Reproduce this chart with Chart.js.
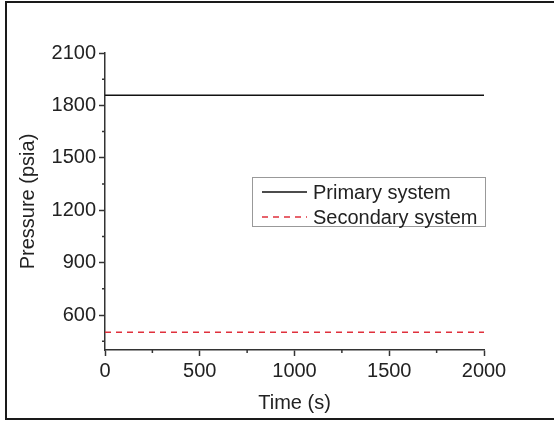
<!DOCTYPE html>
<html>
<head>
<meta charset="utf-8">
<script src="https://cdn.jsdelivr.net/npm/chart.js@4"></script>
<style>
  html, body { margin: 0; padding: 0; background: #fff; }
  #wrap { width: 554px; height: 421px; position: relative; }
</style>
</head>
<body>
<div id="wrap"><canvas id="myChart" width="554" height="421"></canvas></div>
<script>
var timeS = [0, 500, 1000, 1500, 2000];
var primaryPsia = [1858, 1858, 1858, 1858, 1858];
var secondaryPsia = [501, 501, 501, 501, 501];
var seriesNames = ['Primary system', 'Secondary system'];
var yTickValues = [600, 900, 1200, 1500, 1800, 2100];
var yMinorValues = [450, 750, 1050, 1350, 1650, 1950];
var xMinorValues = [250, 750, 1250, 1750];

var FONT = "'Liberation Sans', Arial, sans-serif";
var INK = '#222';
var AXIS = '#333';

function pts(vals) {
  return timeS.map(function (t, i) { return { x: t, y: vals[i] }; });
}

// white background + outer frame
var framePlugin = {
  id: 'frame',
  beforeDraw: function (chart) {
    var c = chart.ctx;
    c.save();
    c.fillStyle = '#fff';
    c.fillRect(0, 0, chart.width, chart.height);
    c.strokeStyle = '#1a1a1a';
    c.lineWidth = 2;
    c.strokeRect(6, 2, 600, 417);
    c.restore();
  }
};

// small minor ticks pointing outwards
var minorTicks = {
  id: 'minorTicks',
  afterDraw: function (chart) {
    var c = chart.ctx, x = chart.scales.x, y = chart.scales.y;
    c.save();
    c.strokeStyle = AXIS;
    c.lineWidth = 1.5;
    c.beginPath();
    yMinorValues.forEach(function (v) {
      var py = y.getPixelForValue(v);
      c.moveTo(x.left, py); c.lineTo(x.left - 3, py);
    });
    xMinorValues.forEach(function (v) {
      var px = x.getPixelForValue(v);
      c.moveTo(px, y.bottom); c.lineTo(px, y.bottom + 3);
    });
    c.stroke();
    c.restore();
  }
};

// boxed legend inside the plot
var boxLegend = {
  id: 'boxLegend',
  afterDraw: function (chart) {
    var c = chart.ctx;
    var bx = 252, by = 177, bw = 233, bh = 49;
    c.save();
    c.fillStyle = '#fff';
    c.fillRect(bx, by, bw, bh);
    c.strokeStyle = '#999';
    c.lineWidth = 1;
    c.strokeRect(bx + 0.5, by + 0.5, bw, bh);
    c.font = '20px ' + FONT;
    c.textBaseline = 'middle';
    chart.data.datasets.forEach(function (ds, i) {
      var ry = 192 + i * 25;
      c.strokeStyle = ds.borderColor;
      c.lineWidth = ds.borderWidth;
      c.setLineDash(ds.borderDash || []);
      c.beginPath();
      c.moveTo(262, ry); c.lineTo(307, ry);
      c.stroke();
      c.setLineDash([]);
      c.fillStyle = INK;
      c.fillText(ds.label, 313, ry + 1);
    });
    c.restore();
  }
};

function plain(v) { return String(v); }

var ctx = document.getElementById('myChart');
new Chart(ctx, {
  type: 'line',
  data: {
    datasets: [{
      label: seriesNames[0],
      data: pts(primaryPsia),
      borderColor: '#111',
      borderWidth: 1.5,
      pointRadius: 0,
      fill: false
    }, {
      label: seriesNames[1],
      data: pts(secondaryPsia),
      borderColor: '#e0303c',
      borderWidth: 1.5,
      borderDash: [6, 5],
      pointRadius: 0,
      fill: false
    }]
  },
  options: {
    responsive: false,
    animation: false,
    layout: { padding: { top: 53, right: 70, left: 0, bottom: 0 } },
    plugins: {
      legend: { display: false },
      tooltip: { enabled: false }
    },
    scales: {
      x: {
        type: 'linear',
        min: 0,
        max: 2000,
        afterFit: function (s) { s.height = 71; },
        ticks: {
          stepSize: 500,
          padding: 3,
          color: INK,
          maxRotation: 0,
          callback: plain,
          font: { family: FONT, size: 20 }
        },
        grid: {
          drawOnChartArea: false,
          drawTicks: true,
          tickLength: 6,
          tickColor: AXIS,
          tickWidth: 1.5
        },
        border: { color: AXIS, width: 1.5 },
        title: {
          display: true,
          text: 'Time (s)',
          color: INK,
          font: { family: FONT, size: 20 },
          padding: { top: 0, bottom: 6 }
        }
      },
      y: {
        type: 'linear',
        min: 400,
        max: 2100,
        afterFit: function (s) { s.width = 105; },
        afterBuildTicks: function (s) {
          s.ticks = yTickValues.map(function (v) { return { value: v }; });
        },
        ticks: {
          padding: 3,
          color: INK,
          callback: plain,
          font: { family: FONT, size: 20 }
        },
        grid: {
          drawOnChartArea: false,
          drawTicks: true,
          tickLength: 6,
          tickColor: AXIS,
          tickWidth: 1.5
        },
        border: { color: AXIS, width: 1.5 },
        title: {
          display: true,
          text: 'Pressure (psia)',
          color: INK,
          font: { family: FONT, size: 20 },
          padding: { top: 16, bottom: 0 }
        }
      }
    }
  },
  plugins: [framePlugin, minorTicks, boxLegend]
});
</script>
</body>
</html>
